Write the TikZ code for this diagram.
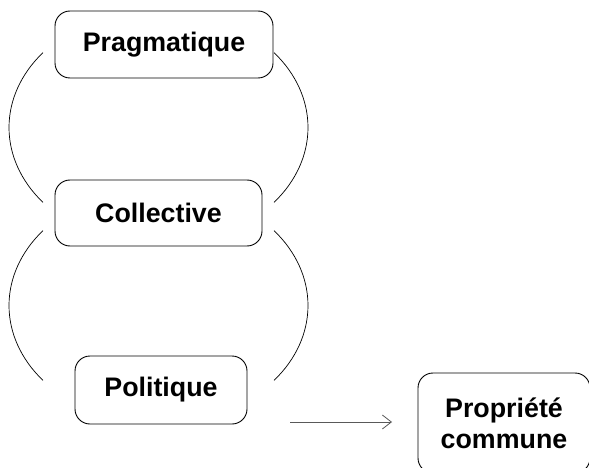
\documentclass[tikz,border=0pt]{standalone}
\usepackage{fontspec}
\setmainfont{Liberation Sans}
\usetikzlibrary{arrows.meta}
\begin{document}
\begin{tikzpicture}[x=1pt,y=-1pt,
  box/.style={draw=black, line width=0.9pt, rounded corners=15pt, inner sep=0pt,
    align=center, font=\fontsize{26.8}{31}\selectfont\bfseries},
  ring/.style={draw=black, line width=0.7pt},
  link/.style={draw=black!65, line width=0.9pt, -{Straight Barb[length=9pt,width=14pt,line width=0.8pt]}}]
\useasboundingbox (0,0) rectangle (589,468);
\node[box, minimum width=218pt, minimum height=67pt] (prag) at (164,44.5) {Pragmatique};
\node[box, minimum width=207pt, minimum height=66pt] (coll) at (158.5,213) {Collective};
\node[box, minimum width=172pt, minimum height=68pt] (pol) at (161,390) {Politique};
\node[box, minimum width=172pt, minimum height=100pt] (prop) at (504,423) {Propriété\\commune};
\coordinate (e1) at (158.5,127.5);
\coordinate (e2) at (158.5,305.5);
\draw[ring] (e1) ++(219.4:149.5 and 118) arc[start angle=219.4, end angle=140.6, x radius=149.5, y radius=118];
\draw[ring] (e1) ++(-39.4:149.5 and 118) arc[start angle=-39.4, end angle=39.4, x radius=149.5, y radius=118];
\draw[ring] (e2) ++(219.4:149.5 and 118) arc[start angle=219.4, end angle=140.6, x radius=149.5, y radius=118];
\draw[ring] (e2) ++(-39.4:149.5 and 118) arc[start angle=-39.4, end angle=39.4, x radius=149.5, y radius=118];
\coordinate (a1) at (290,422);
\coordinate (a2) at (392,422);
\draw[link] (a1) -- (a2);
\end{tikzpicture}
\end{document}
